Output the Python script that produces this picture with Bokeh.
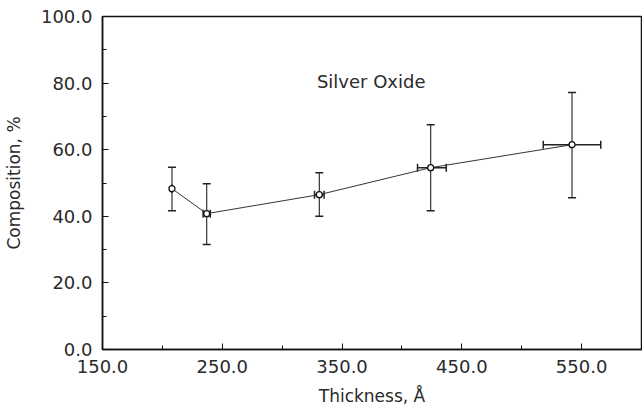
from bokeh.plotting import figure
from bokeh.models import ColumnDataSource, Whisker, FixedTicker, PrintfTickFormatter, Label, TeeHead
from bokeh.embed import file_html
from bokeh.resources import INLINE

# Data
thickness = [208, 237, 331, 424, 542]
composition = [48.3, 40.8, 46.5, 54.6, 61.5]
comp_upper = [54.7, 49.8, 53.1, 67.5, 77.2]
comp_lower = [41.7, 31.5, 40.0, 41.7, 45.6]
thick_lower = [208, 234, 327, 413, 518]
thick_upper = [208, 240, 335, 437, 566]

x_ticks = [150, 250, 350, 450, 550]
x_minor = [200, 300, 400, 500, 600]
y_ticks = [0, 20, 40, 60, 80, 100]
y_minor = [10, 30, 50, 70, 90]

FONT = "DejaVu Sans"
TXT = "#2a2a2a"
INK = "#222222"

src = ColumnDataSource(dict(x=thickness, y=composition, yu=comp_upper, yl=comp_lower,
                            xl=thick_lower, xu=thick_upper))

p = figure(frame_width=539, frame_height=333, min_border_left=95, min_border_top=16,
           min_border_right=1, min_border_bottom=53,
           x_range=(150, 600), y_range=(0, 100),
           output_backend="svg", toolbar_location=None,
           x_axis_label="Thickness, Å", y_axis_label="Composition, %")
p.grid.visible = False
p.outline_line_color = "#111111"
p.outline_line_width = 1.5
p.background_fill_color = "white"
p.border_fill_color = "white"

p.xaxis.ticker = FixedTicker(ticks=x_ticks, minor_ticks=x_minor)
p.yaxis.ticker = FixedTicker(ticks=y_ticks, minor_ticks=y_minor)
for ax in (p.xaxis, p.yaxis):
    ax.formatter = PrintfTickFormatter(format="%.1f")
    ax.axis_line_color = "#111111"
    ax.axis_line_width = 1.5
    ax.major_tick_in = 6
    ax.major_tick_out = 0
    ax.minor_tick_in = 4
    ax.minor_tick_out = 0
    ax.major_tick_line_color = "#111111"
    ax.minor_tick_line_color = "#111111"
    ax.major_label_text_font = FONT
    ax.major_label_text_font_size = "18px"
    ax.major_label_text_color = TXT
    ax.axis_label_text_font = FONT
    ax.axis_label_text_font_size = "17px"
    ax.axis_label_text_font_style = "normal"
    ax.axis_label_text_color = TXT
p.xaxis.major_label_standoff = 10
p.yaxis.major_label_standoff = 10
p.xaxis.axis_label_standoff = 10
p.yaxis.axis_label_standoff = 14

p.line("x", "y", source=src, line_color="#333333", line_width=1.0)

p.add_layout(Whisker(source=src, base="x", upper="yu", lower="yl", dimension="height",
                     line_color=INK, line_width=1.1,
                     upper_head=TeeHead(size=8, line_color=INK, line_width=1.5),
                     lower_head=TeeHead(size=8, line_color=INK, line_width=1.5)))
p.add_layout(Whisker(source=src, base="y", upper="xu", lower="xl", dimension="width",
                     line_color=INK, line_width=1.5,
                     upper_head=TeeHead(size=8, line_color=INK, line_width=1.5),
                     lower_head=TeeHead(size=8, line_color=INK, line_width=1.5)))

p.scatter("x", "y", source=src, marker="circle", size=6, fill_color="white",
          line_color="#111111", line_width=1.3)

p.add_layout(Label(x=329, y=80.5, text="Silver Oxide", text_font=FONT, text_font_size="18px",
                   text_color=TXT, text_baseline="middle", text_align="left"))

open("out.html", "w").write(file_html(p, INLINE))
